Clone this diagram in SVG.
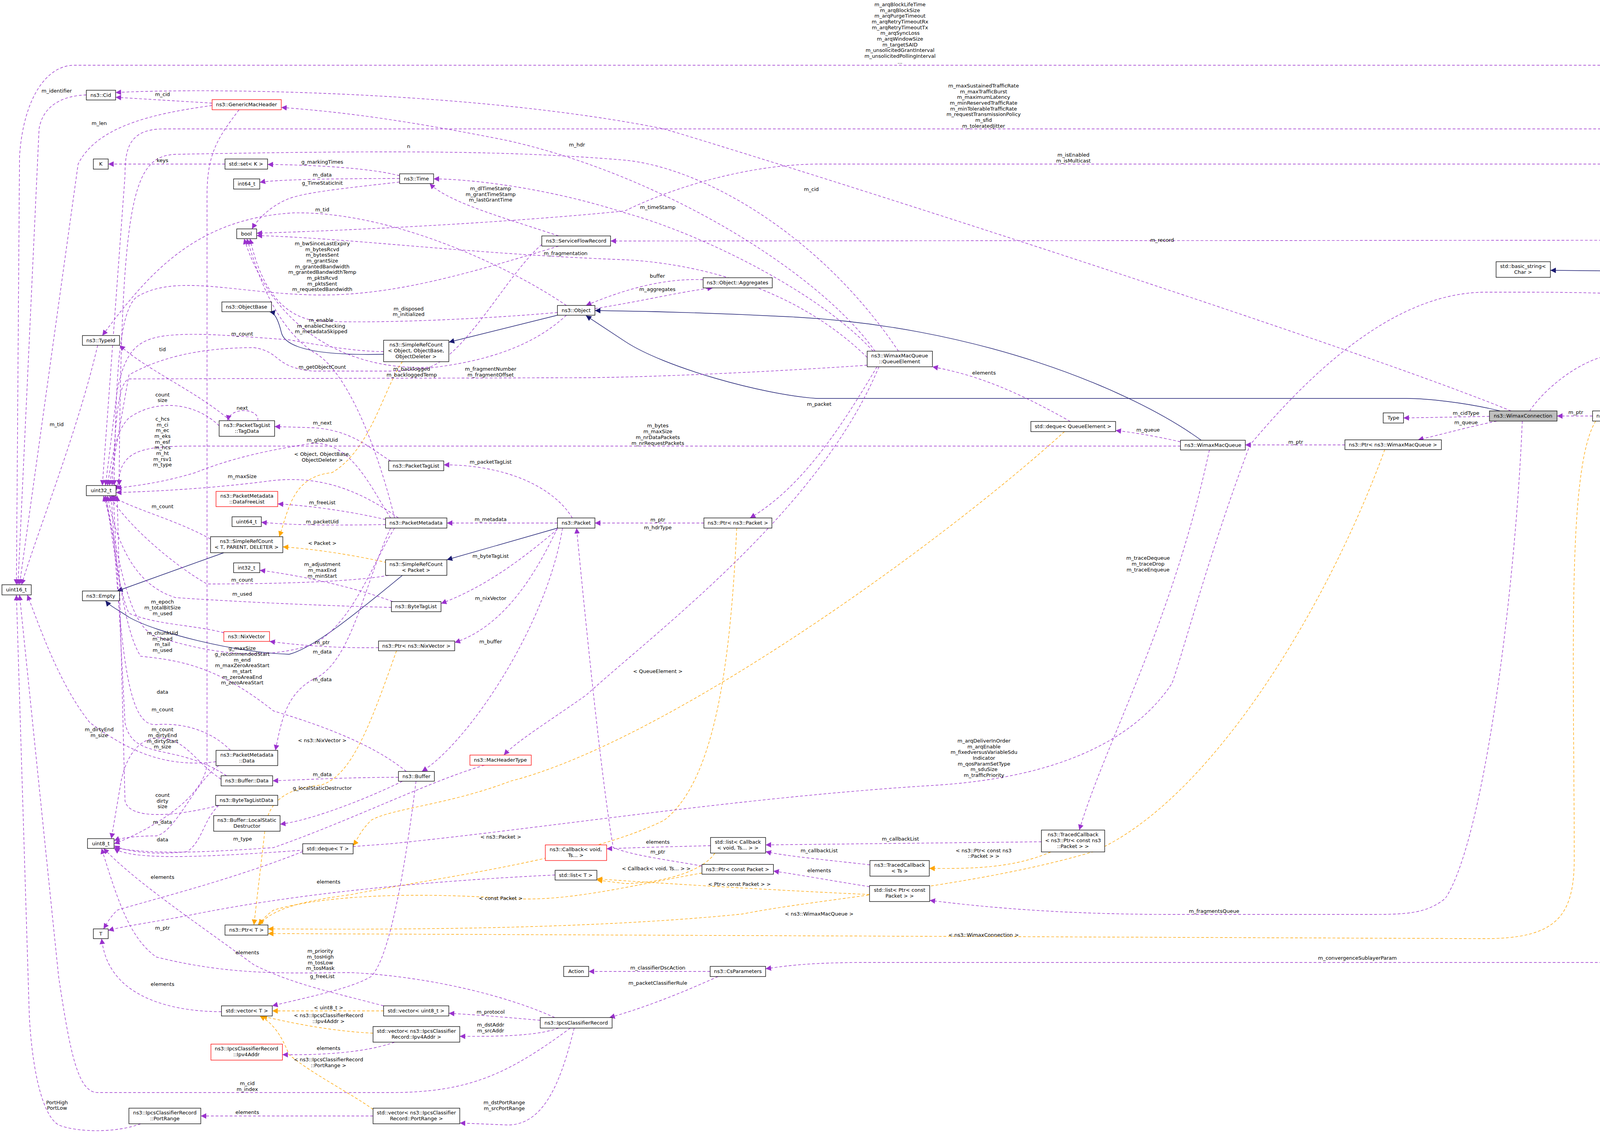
<svg xmlns="http://www.w3.org/2000/svg" width="4659" height="2898" viewBox="0 0 4659 2898">
<style>
text{font-family:"DejaVu Sans","Liberation Sans",sans-serif;font-size:13px;fill:#000;text-anchor:middle}
.n rect{fill:#fff;stroke:#000;stroke-width:1.3}
.r rect{stroke:#f00}
.g rect{fill:#bfbfbf}
.u{fill:none;stroke:#9a32cd;stroke-width:1.4;stroke-dasharray:7,5;marker-end:url(#mu)}
.i{fill:none;stroke:#191970;stroke-width:1.4;marker-end:url(#mi)}
.t{fill:none;stroke:#ffa500;stroke-width:1.4;stroke-dasharray:7,5;marker-end:url(#mt)}
</style>
<defs>
<marker id="mu" viewBox="0 0 10 10" refX="10" refY="5" markerWidth="14" markerHeight="14" markerUnits="userSpaceOnUse" orient="auto"><path d="M0,0L10,5L0,10z" fill="#9a32cd"/></marker>
<marker id="mi" viewBox="0 0 10 10" refX="10" refY="5" markerWidth="14" markerHeight="14" markerUnits="userSpaceOnUse" orient="auto"><path d="M0,0L10,5L0,10z" fill="#191970"/></marker>
<marker id="mt" viewBox="0 0 10 10" refX="10" refY="5" markerWidth="14" markerHeight="14" markerUnits="userSpaceOnUse" orient="auto"><path d="M0,0L10,5L0,10z" fill="#ffa500"/></marker>
</defs>
<rect width="4659" height="2898" fill="#fff"/>
<g id="connectors">
<path class="u" d="M4588,812 C4560,500 4450,167 4200,167 L190,167 C120,167 60,250 50,400 L42,1497"/>
<path class="u" d="M221,243 C160,245 110,270 100,330 L46,1497"/>
<path class="u" d="M543,264 L296,249"/>
<path class="u" d="M3868,1052 C3500,900 2200,480 1700,330 C1200,230 500,225 296,237"/>
<path class="u" d="M2240,899 C2100,700 1700,450 1300,360 C1000,300 850,285 720,275"/>
<path class="u" d="M543,270 C400,290 250,320 200,420 L50,1497"/>
<path class="u" d="M612,281 C560,350 530,390 530,500 L530,1950 C530,2050 350,2140 292,2160"/>
<path class="u" d="M4580,812 C4500,600 4250,330 4100,330 L420,330 C330,330 320,380 320,450 L262,1243"/>
<path class="u" d="M4570,812 C4500,650 4400,420 4250,420 L2100,420 C1900,420 1700,490 1600,540 C1300,570 900,590 657,597"/>
<path class="u" d="M2220,915 C2000,700 1700,670 1600,665 C1200,650 900,610 657,603"/>
<path class="u" d="M2235,899 C2100,750 1800,600 1600,545 C1400,480 1200,458 1110,458"/>
<path class="u" d="M1430,604 C1300,560 1150,520 1100,470"/>
<path class="u" d="M1023,450 C950,430 800,422 685,421"/>
<path class="u" d="M576,420 L277,420"/>
<path class="u" d="M1023,457 C850,457 700,460 665,467"/>
<path class="u" d="M1023,466 C900,480 800,490 750,505 C700,520 660,560 645,586"/>
<path class="u" d="M1450,782 C1300,680 1000,540 750,545 C500,560 380,700 262,859"/>
<path class="u" d="M1430,630 C1200,700 1000,760 800,755 C600,750 450,700 350,760 C300,800 297,1000 292,1243"/>
<path class="u" d="M1427,800 C1200,820 900,830 800,820 C700,800 660,700 640,611"/>
<path class="u" d="M1010,1326 C980,1200 900,950 800,900 C700,830 660,700 632,611"/>
<path class="i" d="M982,907 C850,910 730,900 720,850 C710,810 700,800 690,798"/>
<path class="i" d="M1427,807 L1149,876"/>
<path class="i" d="M3075,1127 C2900,1000 2500,830 2000,810 C1800,800 1600,796 1523,795"/>
<path class="i" d="M3840,1052 C3750,1030 3650,1020 3600,1020 L2090,1020 C1950,1010 1700,940 1600,874 L1500,808"/>
<path class="u" d="M1523,790 C1650,770 1750,745 1825,737"/>
<path class="u" d="M1800,716 C1700,712 1600,740 1500,782"/>
<path class="u" d="M982,900 C900,900 800,880 740,870 C600,860 500,850 420,860 C350,870 320,900 300,1000 L270,1243"/>
<path class="u" d="M590,1077 C500,1000 380,950 306,884"/>
<path class="u" d="M1450,807 C1350,900 1200,940 1000,950 L800,950 C700,940 720,900 650,890 C500,890 400,920 330,960 L280,1243"/>
<path class="u" d="M1387,626 C1300,700 1200,900 1100,940 C900,950 700,850 625,611"/>
<path class="t" d="M1030,926 C980,1000 950,1150 850,1210 C750,1220 740,1300 715,1374"/>
<path class="u" d="M2220,935 C2000,950 1700,965 1500,967 L330,970 C300,980 295,1100 287,1243"/>
<path class="u" d="M660,1077 C665,1045 590,1040 583,1077"/>
<path class="u" d="M561,1090 C500,1030 400,1020 330,1070 C300,1100 290,1150 275,1243"/>
<path class="u" d="M1000,1180 C950,1150 900,1100 800,1095 L703,1092"/>
<path class="u" d="M1000,1326 C950,1250 900,1130 800,1135 C700,1150 600,1170 500,1210 C400,1240 330,1245 297,1250"/>
<path class="u" d="M1020,1326 C900,1240 800,1220 700,1230 C550,1250 400,1258 297,1261"/>
<path class="u" d="M987,1330 C900,1310 800,1295 711,1290"/>
<path class="u" d="M987,1343 C850,1345 750,1345 669,1337"/>
<path class="u" d="M1427,1339 L1144,1339"/>
<path class="u" d="M1465,1326 C1420,1250 1300,1190 1136,1190"/>
<path class="u" d="M539,1380 C450,1330 330,1300 285,1269"/>
<path class="t" d="M990,1440 C900,1420 800,1405 724,1400"/>
<path class="i" d="M1427,1352 L1144,1433"/>
<path class="i" d="M573,1415 L300,1513"/>
<path class="i" d="M1030,1473 C900,1580 800,1660 740,1675 C600,1670 400,1620 330,1580 C300,1560 280,1550 270,1538"/>
<path class="u" d="M1005,1540 C900,1500 750,1470 665,1460"/>
<path class="u" d="M995,1473 C900,1490 700,1495 530,1495 C450,1450 330,1350 280,1269"/>
<path class="u" d="M1002,1555 C800,1550 600,1540 450,1530 C350,1500 300,1400 275,1269"/>
<path class="u" d="M1427,1355 C1350,1420 1250,1500 1129,1545"/>
<path class="u" d="M573,1620 C500,1600 400,1600 330,1570 C300,1500 290,1380 270,1269"/>
<path class="u" d="M1010,1352 C950,1450 900,1600 800,1650 C650,1700 500,1660 400,1630 C320,1600 305,1400 265,1269"/>
<path class="u" d="M969,1658 C850,1660 750,1650 690,1642"/>
<path class="u" d="M1427,1352 C1380,1450 1300,1600 1164,1645"/>
<path class="u" d="M1040,1975 C950,1900 800,1850 700,1820 C550,1700 450,1690 360,1680 C310,1600 300,1400 270,1269"/>
<path class="u" d="M1000,1352 C930,1500 900,1700 800,1740 C730,1780 720,1850 705,1921"/>
<path class="u" d="M1440,1352 C1400,1600 1200,1900 1080,1975"/>
<path class="u" d="M553,1950 C400,1970 300,1900 230,1850 C150,1750 100,1600 70,1523"/>
<path class="u" d="M566,1995 C500,1950 480,1900 420,1890 C350,1880 320,1950 310,2000 L285,2147"/>
<path class="u" d="M590,1921 C540,1870 470,1850 400,1855 C330,1860 310,1700 285,1269"/>
<path class="u" d="M580,1986 C450,1900 340,1950 320,1850 L290,1269"/>
<path class="t" d="M1015,1666 C950,1850 900,1990 820,2010 C720,2020 690,2060 680,2110 L650,2368"/>
<path class="u" d="M1020,1990 C900,1990 800,1995 698,1999"/>
<path class="u" d="M560,2062 C450,2090 330,2100 320,2050 L300,1269"/>
<path class="u" d="M1030,2000 C950,2040 800,2100 717,2110"/>
<path class="u" d="M560,1960 C500,2000 450,2130 400,2140 C350,2140 310,2145 292,2152"/>
<path class="u" d="M560,2062 C520,2100 520,2150 480,2180 C400,2190 320,2180 292,2165"/>
<path class="u" d="M1240,1959 C1100,2000 900,2100 700,2170 C550,2180 400,2190 292,2170"/>
<path class="t" d="M2725,1105 C2400,1400 1700,1900 1306,2000 C1150,2060 1000,2070 950,2100 C920,2130 915,2150 904,2165"/>
<path class="t" d="M1886,1352 C1870,1700 1830,2000 1700,2100 C1500,2200 1100,2250 900,2290 C750,2310 700,2330 660,2368"/>
<path class="u" d="M4520,820 C4400,760 4200,748 3900,748 L3800,748 C3600,750 3400,900 3200,1139 C3100,1400 3020,1700 3000,1750 C2900,1900 2700,1990 2400,2010 C1900,2040 1400,2120 1000,2160 C600,2190 350,2210 292,2172"/>
<path class="u" d="M775,2180 C600,2250 400,2300 300,2330 C280,2350 270,2370 265,2378"/>
<path class="u" d="M1421,2240 C1000,2260 700,2300 500,2340 C400,2360 320,2370 277,2382"/>
<path class="t" d="M1797,2235 C1600,2270 1450,2310 1300,2300 C1000,2280 800,2300 700,2330 C680,2345 670,2355 665,2368"/>
<path class="t" d="M1830,2184 C1800,2230 1700,2260 1600,2262 L1528,2253"/>
<path class="t" d="M2226,2290 C2000,2280 1700,2262 1528,2250"/>
<path class="u" d="M1819,2165 C1700,2168 1620,2170 1553,2173"/>
<path class="u" d="M1797,2217 C1700,2200 1620,2190 1570,2170 C1540,2000 1500,1600 1476,1352"/>
<path class="u" d="M2226,2270 C2100,2250 2050,2240 1980,2230"/>
<path class="u" d="M2666,2155 L1960,2163"/>
<path class="u" d="M2227,2214 C2100,2200 2000,2190 1960,2180"/>
<path class="t" d="M2690,2181 C2600,2220 2500,2225 2379,2223"/>
<path class="u" d="M3096,1152 C3000,1600 2830,1900 2763,2125"/>
<path class="u" d="M3897,1078 C3880,1500 3800,2150 3700,2300 C3650,2340 3600,2341 3500,2341 L3000,2341 C2700,2341 2500,2320 2380,2305"/>
<path class="t" d="M3545,1151 C3400,1550 3100,2050 2800,2180 C2500,2270 2100,2300 1900,2340 C1500,2380 1000,2380 686,2378"/>
<path class="t" d="M4085,1078 C4010,1200 4030,1700 4030,2200 C4030,2350 3980,2403 3800,2403 L686,2390"/>
<path class="u" d="M4580,837 C4560,1500 4500,2200 4400,2400 C4350,2460 4300,2464 4200,2464 L2200,2464 C2050,2465 2000,2475 1960,2480"/>
<path class="u" d="M1818,2487 L1507,2487"/>
<path class="u" d="M1838,2500 C1750,2540 1650,2580 1560,2605"/>
<path class="u" d="M1420,2605 C1300,2550 1100,2500 900,2490 C750,2490 600,2500 400,2450 C330,2400 300,2300 260,2172"/>
<path class="u" d="M1065,2000 C1040,2200 1000,2450 950,2500 C900,2530 800,2550 697,2575"/>
<path class="u" d="M567,2590 C450,2590 350,2560 300,2500 C275,2470 265,2440 260,2403"/>
<path class="u" d="M982,2575 C850,2540 750,2520 650,2470 C500,2360 350,2260 265,2172"/>
<path class="t" d="M982,2588 L697,2588"/>
<path class="u" d="M1383,2612 C1300,2605 1250,2600 1149,2594"/>
<path class="t" d="M955,2645 C850,2640 750,2620 670,2601"/>
<path class="u" d="M1430,2632 C1380,2650 1300,2654 1177,2653"/>
<path class="u" d="M1010,2668 C950,2690 850,2702 723,2700"/>
<path class="t" d="M955,2840 C900,2800 800,2750 740,2700 C720,2650 700,2620 665,2601"/>
<path class="u" d="M1460,2632 C1300,2750 1200,2797 1000,2797 L250,2797 C200,2797 180,2700 150,2500 L50,1523"/>
<path class="u" d="M360,2877 C300,2900 200,2900 150,2880 C100,2850 80,2700 75,2600 L42,1523"/>
<path class="u" d="M955,2857 L514,2857"/>
<path class="u" d="M1470,2632 C1440,2750 1400,2880 1300,2880 L1177,2875"/>
<path class="u" d="M4560,812 C4500,720 4400,690 4245,690"/>
<path class="i" d="M4158,694 L3969,692"/>
<path class="u" d="M4522,820 C4400,812 4300,805 4263,802"/>
<path class="u" d="M4522,834 C4400,845 4300,850 4263,850"/>
<path class="u" d="M3916,1052 C3950,1000 4050,910 4150,905 C4300,890 4400,860 4545,837"/>
<path class="u" d="M4580,837 C4530,920 4400,975 4243,970"/>
<path class="u" d="M4580,837 C4540,960 4400,1030 4229,1020"/>
<path class="u" d="M4585,837 C4540,1020 4400,1090 4260,1078"/>
<path class="u" d="M4590,837 C4560,1080 4400,1150 4250,1128"/>
<path class="u" d="M4530,812 C4450,700 4350,615 4250,615 L1563,617"/>
<path class="u" d="M3813,1066 L3593,1070"/>
<path class="u" d="M3832,1078 C3750,1095 3700,1110 3630,1126"/>
<path class="u" d="M4077,1065 L3986,1065"/>
<path class="u" d="M3443,1139 L3188,1139"/>
<path class="u" d="M3022,1131 C2950,1115 2900,1107 2856,1102"/>
<path class="u" d="M3022,1142 L500,1142 C380,1142 330,1150 310,1200 L297,1256"/>
<path class="u" d="M2740,1079 C2600,1000 2500,960 2387,939"/>
<path class="u" d="M2245,939 C2150,1100 2050,1250 1920,1326"/>
<path class="u" d="M1802,1339 L1523,1339"/>
<path class="u" d="M2250,939 C2100,1300 1700,1600 1500,1780 C1400,1850 1320,1900 1290,1933"/>
<path class="u" d="M250,884 C200,1100 100,1350 55,1497"/>
<path class="u" d="M2300,899 C2100,600 1800,430 1600,410 C1300,385 1000,385 450,395 C340,400 310,500 305,1243"/>
<g id="labels">
<text x="2304" y="16">m_arqBlockLifeTime</text><text x="2304" y="31">m_arqBlockSize</text><text x="2304" y="45">m_arqPurgeTimeout</text><text x="2304" y="60">m_arqRetryTimeoutRx</text><text x="2304" y="75">m_arqRetryTimeoutTx</text><text x="2304" y="89">m_arqSyncLoss</text><text x="2304" y="104">m_arqWindowSize</text><text x="2304" y="119">m_targetSAID</text><text x="2304" y="133">m_unsolicitedGrantInterval</text><text x="2304" y="148">m_unsolicitedPollingInterval</text><text x="2304" y="163">...</text>
<text x="2518" y="224">m_maxSustainedTrafficRate</text><text x="2518" y="239">m_maxTrafficBurst</text><text x="2518" y="253">m_maximumLatency</text><text x="2518" y="268">m_minReservedTrafficRate</text><text x="2518" y="283">m_minTolerableTrafficRate</text><text x="2518" y="297">m_requestTransmissionPolicy</text><text x="2518" y="312">m_sfid</text><text x="2518" y="327">m_toleratedJitter</text>
<text x="2748" y="401">m_isEnabled</text><text x="2748" y="416">m_isMulticast</text>
<text x="145" y="237">m_identifier</text><text x="416" y="246">m_cid</text><text x="2077" y="489">m_cid</text><text x="1477" y="375">m_hdr</text><text x="254" y="320">m_len</text><text x="1046" y="379">n</text>
<text x="416" y="415">keys</text><text x="825" y="419">g_markingTimes</text><text x="825" y="452">m_data</text><text x="825" y="473">g_TimeStaticInit</text>
<text x="1684" y="535">m_timeStamp</text><text x="1256" y="487">m_dlTimeStamp</text><text x="1256" y="502">m_grantTimeStamp</text><text x="1256" y="516">m_lastGrantTime</text>
<text x="825" y="541">m_tid</text><text x="1448" y="653">m_fragmentation</text><text x="2975" y="619">m_record</text>
<text x="825" y="628">m_bwSinceLastExpiry</text><text x="825" y="643">m_bytesRcvd</text><text x="825" y="657">m_bytesSent</text><text x="825" y="672">m_grantSize</text><text x="825" y="687">m_grantedBandwidth</text><text x="825" y="701">m_grantedBandwidthTemp</text><text x="825" y="716">m_pktsRcvd</text><text x="825" y="731">m_pktsSent</text><text x="825" y="745">m_requestedBandwidth</text>
<text x="1683" y="711">buffer</text><text x="1683" y="745">m_aggregates</text>
<text x="1046" y="795">m_disposed</text><text x="1046" y="809">m_initialized</text>
<text x="822" y="824">m_enable</text><text x="822" y="839">m_enableChecking</text><text x="822" y="853">m_metadataSkipped</text>
<text x="620" y="859">m_count</text><text x="416" y="899">tid</text><text x="825" y="944">m_getObjectCount</text>
<text x="1054" y="949">m_backlogged</text><text x="1054" y="964">m_backloggedTemp</text>
<text x="1256" y="949">m_fragmentNumber</text><text x="1256" y="964">m_fragmentOffset</text>
<text x="2519" y="959">elements</text><text x="2097" y="1039">m_packet</text>
<text x="416" y="1015">count</text><text x="416" y="1029">size</text><text x="620" y="1049">next</text><text x="825" y="1087">m_next</text><text x="145" y="1091">m_tid</text>
<text x="416" y="1077">c_hcs</text><text x="416" y="1092">m_ci</text><text x="416" y="1106">m_ec</text><text x="416" y="1121">m_eks</text><text x="416" y="1136">m_esf</text><text x="416" y="1150">m_hcs</text><text x="416" y="1165">m_ht</text><text x="416" y="1180">m_rsv1</text><text x="416" y="1194">m_type</text>
<text x="825" y="1131">m_globalUid</text><text x="825" y="1167">&lt; Object, ObjectBase,</text><text x="825" y="1182">ObjectDeleter &gt;</text>
<text x="1684" y="1094">m_bytes</text><text x="1684" y="1109">m_maxSize</text><text x="1684" y="1124">m_nrDataPackets</text><text x="1684" y="1139">m_nrRequestPackets</text>
<text x="2939" y="1105">m_queue</text><text x="1256" y="1187">m_packetTagList</text><text x="620" y="1224">m_maxSize</text>
<text x="825" y="1291">m_freeList</text><text x="416" y="1301">m_count</text><text x="825" y="1340">m_packetUid</text><text x="1256" y="1334">m_metadata</text>
<text x="1684" y="1335">m_ptr</text><text x="1684" y="1355">m_hdrType</text><text x="825" y="1395">&lt; Packet &gt;</text><text x="1256" y="1428">m_byteTagList</text>
<text x="2939" y="1433">m_traceDequeue</text><text x="2939" y="1448">m_traceDrop</text><text x="2939" y="1463">m_traceEnqueue</text>
<text x="825" y="1449">m_adjustment</text><text x="825" y="1464">m_maxEnd</text><text x="825" y="1479">m_minStart</text>
<text x="620" y="1489">m_count</text><text x="620" y="1525">m_used</text><text x="1256" y="1536">m_nixVector</text>
<text x="416" y="1545">m_epoch</text><text x="416" y="1560">m_totalBitSize</text><text x="416" y="1575">m_used</text>
<text x="416" y="1625">m_chunkUid</text><text x="416" y="1640">m_head</text><text x="416" y="1654">m_tail</text><text x="416" y="1669">m_used</text>
<text x="825" y="1649">m_ptr</text><text x="1256" y="1647">m_buffer</text><text x="825" y="1673">m_data</text><text x="825" y="1744">m_data</text>
<text x="620" y="1664">g_maxSize</text><text x="620" y="1679">g_recommendedStart</text><text x="620" y="1694">m_end</text><text x="620" y="1708">m_maxZeroAreaStart</text><text x="620" y="1723">m_start</text><text x="620" y="1738">m_zeroAreaEnd</text><text x="620" y="1752">m_zeroAreaStart</text>
<text x="1684" y="1723">&lt; QueueElement &gt;</text><text x="416" y="1776">data</text><text x="416" y="1821">m_count</text>
<text x="254" y="1872">m_dirtyEnd</text><text x="254" y="1887">m_size</text>
<text x="416" y="1872">m_count</text><text x="416" y="1887">m_dirtyEnd</text><text x="416" y="1902">m_dirtyStart</text><text x="416" y="1916">m_size</text>
<text x="825" y="1900">&lt; ns3::NixVector &gt;</text>
<text x="2519" y="1901">m_arqDeliverInOrder</text><text x="2519" y="1916">m_arqEnable</text><text x="2519" y="1930">m_fixedversusVariableSdu</text><text x="2519" y="1945">Indicator</text><text x="2519" y="1960">m_qosParamSetType</text><text x="2519" y="1974">m_sduSize</text><text x="2519" y="1989">m_trafficPriority</text>
<text x="825" y="1987">m_data</text><text x="825" y="2022">g_localStaticDestructor</text>
<text x="416" y="2040">count</text><text x="416" y="2055">dirty</text><text x="416" y="2069">size</text>
<text x="416" y="2109">m_data</text><text x="416" y="2154">data</text><text x="621" y="2152">m_type</text><text x="1282" y="2147">&lt; ns3::Packet &gt;</text>
<text x="1684" y="2160">elements</text><text x="1684" y="2185">m_ptr</text><text x="1680" y="2228">&lt; Callback&lt; void, Ts... &gt; &gt;</text>
<text x="2305" y="2152">m_callbackList</text><text x="2097" y="2182">m_callbackList</text><text x="2518" y="2182">&lt; ns3::Ptr&lt; const ns3</text><text x="2518" y="2196">::Packet &gt; &gt;</text>
<text x="2097" y="2233">elements</text><text x="1893" y="2268">&lt; Ptr&lt; const Packet &gt; &gt;</text>
<text x="416" y="2250">elements</text><text x="841" y="2262">elements</text><text x="1282" y="2304">&lt; const Packet &gt;</text>
<text x="3108" y="2337">m_fragmentsQueue</text><text x="2097" y="2344">&lt; ns3::WimaxMacQueue &gt;</text><text x="416" y="2380">m_ptr</text>
<text x="2518" y="2398">&lt; ns3::WimaxConnection &gt;</text><text x="633" y="2443">elements</text>
<text x="820" y="2439">m_priority</text><text x="820" y="2454">m_tosHigh</text><text x="820" y="2469">m_tosLow</text><text x="820" y="2483">m_tosMask</text><text x="825" y="2504">g_freeList</text>
<text x="3475" y="2457">m_convergenceSublayerParam</text><text x="1684" y="2482">m_classifierDscAction</text><text x="1684" y="2521">m_packetClassifierRule</text>
<text x="416" y="2524">elements</text><text x="841" y="2584">&lt; uint8_t &gt;</text><text x="1256" y="2595">m_protocol</text>
<text x="841" y="2604">&lt; ns3::IpcsClassifierRecord</text><text x="841" y="2619">::Ipv4Addr &gt;</text><text x="1256" y="2628">m_dstAddr</text><text x="1256" y="2643">m_srcAddr</text>
<text x="841" y="2688">elements</text><text x="841" y="2717">&lt; ns3::IpcsClassifierRecord</text><text x="841" y="2732">::PortRange &gt;</text>
<text x="633" y="2778">m_cid</text><text x="633" y="2793">m_index</text><text x="146" y="2827">PortHigh</text><text x="146" y="2841">PortLow</text><text x="633" y="2852">elements</text>
<text x="1291" y="2827">m_dstPortRange</text><text x="1291" y="2842">m_srcPortRange</text>
<text x="4427" y="688">m_serviceClassName</text><text x="4438" y="804">m_schedulingType</text><text x="4439" y="834">m_csSpecification</text><text x="4204" y="886">m_serviceFlow</text>
<text x="4427" y="931">m_direction</text><text x="4427" y="987">m_type</text><text x="4427" y="1046">m_connection</text><text x="4426" y="1103">m_modulationType</text>
<text x="3753" y="1062">m_cidType</text><text x="3753" y="1086">m_queue</text><text x="4034" y="1060">m_ptr</text><text x="3317" y="1136">m_ptr</text>
</g>
</g>
<g id="n_Cid" class="n"><rect x="221" y="231" width="75" height="25"/><text x="258" y="248">ns3::Cid</text></g>
<g id="n_GMH" class="n r"><rect x="543" y="255" width="177" height="26"/><text x="631" y="272">ns3::GenericMacHeader</text></g>
<g id="n_K" class="n"><rect x="239" y="407" width="38" height="26"/><text x="258" y="424">K</text></g>
<g id="n_setK" class="n"><rect x="576" y="407" width="109" height="26"/><text x="630" y="424">std::set&lt; K &gt;</text></g>
<g id="n_int64" class="n"><rect x="598" y="458" width="67" height="26"/><text x="631" y="475">int64_t</text></g>
<g id="n_Time" class="n"><rect x="1023" y="445" width="87" height="25"/><text x="1066" y="462">ns3::Time</text></g>
<g id="n_bool" class="n"><rect x="606" y="586" width="51" height="25"/><text x="631" y="603">bool</text></g>
<g id="n_SFR" class="n"><rect x="1387" y="604" width="176" height="26"/><text x="1475" y="621">ns3::ServiceFlowRecord</text></g>
<g id="n_ObjectBase" class="n"><rect x="568" y="773" width="127" height="25"/><text x="631" y="790">ns3::ObjectBase</text></g>
<g id="n_Object" class="n"><rect x="1427" y="782" width="96" height="25"/><text x="1475" y="799">ns3::Object</text></g>
<g id="n_SRCObj" class="n"><rect x="982" y="871" width="167" height="55"/><text x="1065" y="887">ns3::SimpleRefCount</text><text x="1065" y="902">&lt; Object, ObjectBase,</text><text x="1065" y="917">ObjectDeleter &gt;</text></g>
<g id="n_TypeId" class="n"><rect x="211" y="859" width="95" height="25"/><text x="258" y="876">ns3::TypeId</text></g>
<g id="n_uint16" class="n"><rect x="5" y="1497" width="75" height="26"/><text x="42" y="1514">uint16_t</text></g>
<g id="n_uint32" class="n"><rect x="221" y="1243" width="76" height="26"/><text x="259" y="1260">uint32_t</text></g>
<g id="n_TagData" class="n"><rect x="561" y="1077" width="142" height="40"/><text x="632" y="1093">ns3::PacketTagList</text><text x="632" y="1108">::TagData</text></g>
<g id="n_PacketTagList" class="n"><rect x="995" y="1180" width="141" height="25"/><text x="1065" y="1197">ns3::PacketTagList</text></g>
<g id="n_DataFreeList" class="n r"><rect x="553" y="1258" width="158" height="39"/><text x="632" y="1274">ns3::PacketMetadata</text><text x="632" y="1289">::DataFreeList</text></g>
<g id="n_uint64" class="n"><rect x="594" y="1323" width="75" height="25"/><text x="631" y="1340">uint64_t</text></g>
<g id="n_PacketMetadata" class="n"><rect x="987" y="1326" width="157" height="26"/><text x="1065" y="1343">ns3::PacketMetadata</text></g>
<g id="n_Packet" class="n"><rect x="1427" y="1326" width="96" height="26"/><text x="1475" y="1343">ns3::Packet</text></g>
<g id="n_SRCT" class="n"><rect x="539" y="1374" width="185" height="41"/><text x="631" y="1390">ns3::SimpleRefCount</text><text x="631" y="1405">&lt; T, PARENT, DELETER &gt;</text></g>
<g id="n_int32" class="n"><rect x="598" y="1441" width="67" height="25"/><text x="631" y="1458">int32_t</text></g>
<g id="n_SRCPacket" class="n"><rect x="987" y="1433" width="157" height="40"/><text x="1065" y="1449">ns3::SimpleRefCount</text><text x="1065" y="1464">&lt; Packet &gt;</text></g>
<g id="n_Empty" class="n"><rect x="211" y="1513" width="95" height="25"/><text x="258" y="1530">ns3::Empty</text></g>
<g id="n_ByteTagList" class="n"><rect x="1002" y="1540" width="127" height="26"/><text x="1065" y="1557">ns3::ByteTagList</text></g>
<g id="n_NixVector" class="n r"><rect x="573" y="1617" width="117" height="25"/><text x="631" y="1634">ns3::NixVector</text></g>
<g id="n_PtrNix" class="n"><rect x="969" y="1641" width="195" height="25"/><text x="1066" y="1658">ns3::Ptr&lt; ns3::NixVector &gt;</text></g>
<g id="n_MacHeaderType" class="n r"><rect x="1203" y="1933" width="157" height="26"/><text x="1281" y="1950">ns3::MacHeaderType</text></g>
<g id="n_PMData" class="n"><rect x="553" y="1921" width="158" height="39"/><text x="632" y="1937">ns3::PacketMetadata</text><text x="632" y="1952">::Data</text></g>
<g id="n_Buffer" class="n"><rect x="1020" y="1975" width="92" height="25"/><text x="1066" y="1992">ns3::Buffer</text></g>
<g id="n_BufferData" class="n"><rect x="566" y="1986" width="132" height="26"/><text x="632" y="2003">ns3::Buffer::Data</text></g>
<g id="n_BTLData" class="n"><rect x="552" y="2036" width="159" height="26"/><text x="631" y="2053">ns3::ByteTagListData</text></g>
<g id="n_LSD" class="n"><rect x="547" y="2088" width="170" height="40"/><text x="632" y="2104">ns3::Buffer::LocalStatic</text><text x="632" y="2119">Destructor</text></g>
<g id="n_uint8" class="n"><rect x="224" y="2147" width="68" height="25"/><text x="258" y="2164">uint8_t</text></g>
<g id="n_dequeT" class="n"><rect x="775" y="2160" width="129" height="26"/><text x="839" y="2177">std::deque&lt; T &gt;</text></g>
<g id="n_Callback" class="n r"><rect x="1396" y="2163" width="157" height="40"/><text x="1474" y="2179">ns3::Callback&lt; void,</text><text x="1474" y="2194">Ts... &gt;</text></g>
<g id="n_listT" class="n"><rect x="1421" y="2228" width="107" height="25"/><text x="1474" y="2245">std::list&lt; T &gt;</text></g>
<g id="n_T" class="n"><rect x="239" y="2378" width="38" height="25"/><text x="258" y="2395">T</text></g>
<g id="n_PtrT" class="n"><rect x="576" y="2368" width="110" height="26"/><text x="631" y="2385">ns3::Ptr&lt; T &gt;</text></g>
<g id="n_Action" class="n"><rect x="1443" y="2474" width="64" height="26"/><text x="1475" y="2491">Action</text></g>
<g id="n_vectorT" class="n"><rect x="567" y="2575" width="130" height="26"/><text x="632" y="2592">std::vector&lt; T &gt;</text></g>
<g id="n_vectorU8" class="n"><rect x="982" y="2575" width="167" height="26"/><text x="1065" y="2592">std::vector&lt; uint8_t &gt;</text></g>
<g id="n_Ipcs" class="n"><rect x="1383" y="2605" width="184" height="27"/><text x="1475" y="2623">ns3::IpcsClassifierRecord</text></g>
<g id="n_vecIpv4" class="n"><rect x="955" y="2628" width="222" height="40"/><text x="1066" y="2644">std::vector&lt; ns3::IpcsClassifier</text><text x="1066" y="2659">Record::Ipv4Addr &gt;</text></g>
<g id="n_Ipv4Addr" class="n r"><rect x="540" y="2673" width="183" height="41"/><text x="631" y="2689">ns3::IpcsClassifierRecord</text><text x="631" y="2704">::Ipv4Addr</text></g>
<g id="n_PortRange" class="n"><rect x="330" y="2837" width="184" height="40"/><text x="422" y="2853">ns3::IpcsClassifierRecord</text><text x="422" y="2868">::PortRange</text></g>
<g id="n_vecPort" class="n"><rect x="955" y="2837" width="222" height="40"/><text x="1066" y="2853">std::vector&lt; ns3::IpcsClassifier</text><text x="1066" y="2868">Record::PortRange &gt;</text></g>
<g id="n_Aggregates" class="n"><rect x="1800" y="711" width="177" height="26"/><text x="1888" y="728">ns3::Object::Aggregates</text></g>
<g id="n_QE" class="n"><rect x="2220" y="899" width="167" height="40"/><text x="2303" y="915">ns3::WimaxMacQueue</text><text x="2303" y="930">::QueueElement</text></g>
<g id="n_dequeQE" class="n"><rect x="2639" y="1079" width="217" height="26"/><text x="2747" y="1096">std::deque&lt; QueueElement &gt;</text></g>
<g id="n_WMQ" class="n"><rect x="3022" y="1127" width="166" height="25"/><text x="3105" y="1144">ns3::WimaxMacQueue</text></g>
<g id="n_PtrPacket" class="n"><rect x="1802" y="1326" width="174" height="26"/><text x="1889" y="1343">ns3::Ptr&lt; ns3::Packet &gt;</text></g>
<g id="n_listCb" class="n"><rect x="1819" y="2144" width="141" height="40"/><text x="1889" y="2160">std::list&lt; Callback</text><text x="1889" y="2175">&lt; void, Ts... &gt; &gt;</text></g>
<g id="n_TCPtr" class="n"><rect x="2666" y="2125" width="162" height="56"/><text x="2747" y="2141">ns3::TracedCallback</text><text x="2747" y="2156">&lt; ns3::Ptr&lt; const ns3</text><text x="2747" y="2171">::Packet &gt; &gt;</text></g>
<g id="n_PtrConst" class="n"><rect x="1797" y="2213" width="183" height="25"/><text x="1888" y="2230">ns3::Ptr&lt; const Packet &gt;</text></g>
<g id="n_TCTs" class="n"><rect x="2227" y="2203" width="152" height="40"/><text x="2303" y="2219">ns3::TracedCallback</text><text x="2303" y="2234">&lt; Ts &gt;</text></g>
<g id="n_listPtr" class="n"><rect x="2226" y="2267" width="154" height="41"/><text x="2303" y="2283">std::list&lt; Ptr&lt; const</text><text x="2303" y="2298">Packet &gt; &gt;</text></g>
<g id="n_CsParams" class="n"><rect x="1818" y="2474" width="142" height="26"/><text x="1889" y="2491">ns3::CsParameters</text></g>
<g id="n_basicString" class="n"><rect x="3830" y="670" width="139" height="40"/><text x="3899" y="686">std::basic_string&lt;</text><text x="3899" y="701">Char &gt;</text></g>
<g id="n_string" class="n"><rect x="4158" y="682" width="87" height="25"/><text x="4201" y="699">std::string</text></g>
<g id="n_SchedulingType" class="n"><rect x="4140" y="788" width="123" height="25"/><text x="4201" y="805">SchedulingType</text></g>
<g id="n_CsSpecification" class="n"><rect x="4141" y="838" width="122" height="26"/><text x="4202" y="855">CsSpecification</text></g>
<g id="n_ServiceFlow" class="n"><rect x="4522" y="812" width="131" height="25"/><text x="4587" y="829">ns3::ServiceFlow</text></g>
<g id="n_Direction" class="n"><rect x="4161" y="950" width="82" height="25"/><text x="4202" y="967">Direction</text></g>
<g id="n_TypeR" class="n"><rect x="4176" y="1001" width="53" height="25"/><text x="4202" y="1018">Type</text></g>
<g id="n_WC" class="n g"><rect x="3813" y="1052" width="173" height="26"/><text x="3899" y="1069">ns3::WimaxConnection</text></g>
<g id="n_TypeL" class="n"><rect x="3541" y="1057" width="52" height="26"/><text x="3567" y="1074">Type</text></g>
<g id="n_PtrWC" class="n"><rect x="4077" y="1052" width="250" height="26"/><text x="4202" y="1069">ns3::Ptr&lt; ns3::WimaxConnection &gt;</text></g>
<g id="n_PtrWMQ" class="n"><rect x="3443" y="1126" width="247" height="25"/><text x="3566" y="1143">ns3::Ptr&lt; ns3::WimaxMacQueue &gt;</text></g>
<g id="n_ModulationType" class="n"><rect x="4140" y="1102" width="124" height="26"/><text x="4202" y="1119">ModulationType</text></g>
</svg>
